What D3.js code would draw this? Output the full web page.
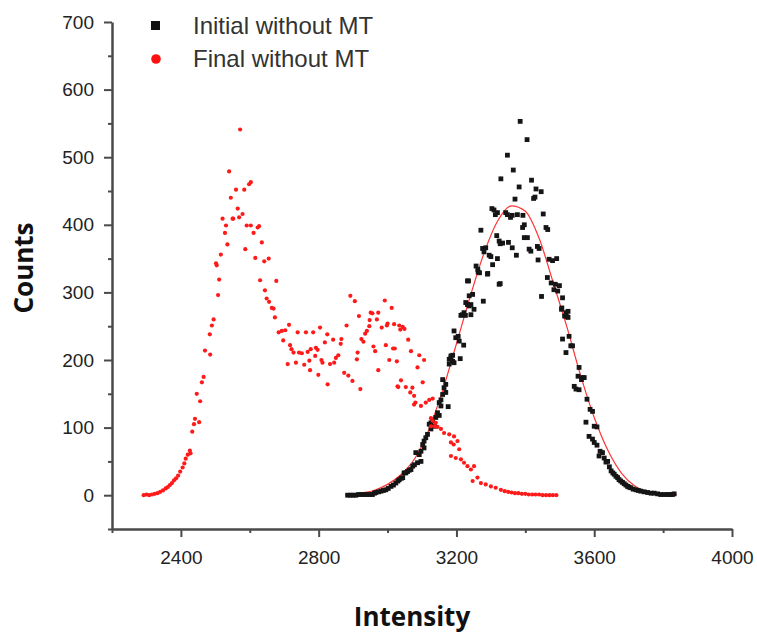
<!DOCTYPE html>
<html>
<head>
<meta charset="utf-8">
<script src="https://cdn.jsdelivr.net/npm/d3@7/dist/d3.min.js"></script>
<style>
body { margin: 0; background: #fff; }
</style>
</head>
<body>
<div id="chart"></div>
<script>
// tick values
var xTicks = [2400, 2800, 3200, 3600, 4000];
var xMinorTicks = [2200, 2600, 3000, 3400, 3800];
var yTicks = [0, 100, 200, 300, 400, 500, 600, 700];
var yMinorTicks = [-50, 50, 150, 250, 350, 450, 550, 650];
var seriesNames = ['Initial without MT', 'Final without MT'];

// Initial without MT : [intensity, counts]
var initialPts = [
  [2884,0],[2892,0],[2900,0],[2908,0],[2916,1],[2924,1],[2932,1],[2940,1],[2948,1],[2956,1],
  [2962,3],[2966,4],[2974,5],[2981,6],[2988,7],[2995,8],[3002,10],[3010,13],[3017,15],[3024,18],
  [3030,21],[3034,23],[3040,25],[3044,26],[3048,33],[3053,33],[3058,35],[3063,37],[3068,38],[3073,43],
  [3078,45],[3082,63],[3087,48],[3092,60],[3097,50],[3097,65],[3102,75],[3106,70],[3106,80],[3111,85],
  [3116,90],[3121,105],[3126,98],[3126,107],[3131,110],[3136,102],[3140,115],[3145,122],[3150,118],[3150,137],
  [3155,132],[3155,141],[3160,149],[3160,171],[3164,159],[3169,164],[3169,152],[3176,131],[3179,194],[3179,201],
  [3184,203],[3184,206],[3189,198],[3189,207],[3193,196],[3193,243],[3198,233],[3205,235],[3208,228],[3211,202],
  [3213,266],[3217,267],[3221,222],[3222,270],[3226,266],[3227,285],[3232,282],[3232,317],[3235,317],[3237,295],
  [3237,280],[3242,267],[3242,282],[3247,297],[3251,275],[3257,339],[3262,334],[3263,330],[3267,329],[3271,392],
  [3276,365],[3278,287],[3280,360],[3285,366],[3290,327],[3291,328],[3295,355],[3300,353],[3303,424],[3305,341],
  [3309,422],[3313,415],[3317,384],[3319,418],[3319,350],[3324,376],[3324,312],[3327,372],[3327,313],[3329,468],
  [3334,373],[3343,418],[3348,503],[3348,415],[3351,374],[3357,411],[3362,414],[3362,366],[3365,481],[3370,438],
  [3374,355],[3377,415],[3382,456],[3385,553],[3392,396],[3393,414],[3397,400],[3397,381],[3405,526],[3406,381],
  [3411,364],[3416,361],[3418,466],[3424,439],[3428,441],[3431,453],[3435,368],[3437,348],[3440,365],[3446,449],
  [3447,294],[3452,416],[3460,396],[3464,322],[3465,393],[3469,349],[3475,314],[3479,347],[3483,304],[3487,312],
  [3491,350],[3494,302],[3499,310],[3505,275],[3506,277],[3508,292],[3508,231],[3514,265],[3518,270],[3518,211],
  [3521,264],[3524,272],[3524,263],[3527,235],[3532,221],[3537,221],[3542,161],[3547,157],[3553,176],[3556,189],
  [3556,156],[3563,171],[3566,174],[3571,174],[3576,108],[3579,142],[3585,87],[3588,127],[3595,124],[3595,83],
  [3600,102],[3600,78],[3608,101],[3608,74],[3614,58],[3617,65],[3624,63],[3629,55],[3634,49],[3639,50],
  [3644,42],[3649,36],[3654,33],[3658,31],[3663,28],[3668,26],[3672,23],[3677,21],[3682,19],[3687,17],
  [3692,15],[3697,13],[3701,12],[3706,11],[3713,9],[3721,8],[3728,7],[3735,6],[3745,5],[3755,4],
  [3765,3],[3774,3],[3784,2],[3793,1],[3803,1],[3813,1],[3820,1],[3827,1],[3832,2]
];

// Final without MT : [intensity, counts]
var finalPts = [
  [2292,0],[2300,1],[2308,0],[2316,1],[2324,2],[2332,3],[2340,5],[2348,7],[2356,10],[2362,12],
  [2368,15],[2374,18],[2380,22],[2386,25],[2392,29],[2398,35],[2405,41],[2410,47],[2414,54],[2420,60],
  [2426,66],[2428,62],[2433,94],[2438,105],[2441,113],[2446,150],[2453,108],[2456,139],[2461,167],[2466,175],
  [2470,214],[2484,238],[2485,208],[2490,251],[2495,260],[2502,343],[2504,340],[2508,296],[2511,319],[2516,356],
  [2521,409],[2528,388],[2531,399],[2535,371],[2540,479],[2545,440],[2550,409],[2552,409],[2560,452],[2565,424],
  [2569,411],[2572,541],[2579,416],[2584,452],[2587,364],[2591,399],[2598,460],[2603,463],[2603,399],[2611,388],
  [2616,351],[2623,396],[2627,398],[2630,318],[2635,374],[2642,346],[2644,303],[2649,291],[2655,350],[2656,286],
  [2664,277],[2669,276],[2673,263],[2677,317],[2684,241],[2693,243],[2697,229],[2703,244],[2710,194],[2714,252],
  [2717,222],[2721,216],[2727,211],[2734,196],[2739,241],[2743,211],[2751,210],[2758,193],[2763,241],[2768,212],
  [2773,199],[2775,185],[2777,216],[2784,241],[2790,206],[2792,218],[2797,215],[2799,178],[2804,248],[2808,200],
  [2811,196],[2818,226],[2825,238],[2826,164],[2833,194],[2842,230],[2845,196],[2850,203],[2857,207],[2864,224],
  [2866,231],[2874,181],[2881,251],[2886,177],[2892,295],[2898,169],[2905,287],[2911,201],[2913,211],[2917,265],
  [2921,157],[2924,231],[2930,227],[2935,239],[2940,243],[2947,250],[2948,259],[2951,270],[2956,269],[2959,220],
  [2964,213],[2969,260],[2973,270],[2973,185],[2983,248],[2992,288],[2995,222],[2998,251],[3000,254],[3005,200],
  [3012,277],[3016,217],[3019,253],[3021,217],[3027,198],[3029,161],[3031,160],[3034,251],[3037,245],[3039,170],
  [3044,249],[3049,246],[3053,160],[3060,230],[3066,152],[3068,213],[3072,159],[3077,147],[3077,134],[3081,137],
  [3087,189],[3092,207],[3097,132],[3102,167],[3106,200],[3111,137],[3121,141],[3126,102],[3126,114],[3131,143],
  [3131,110],[3136,102],[3140,107],[3145,101],[3155,98],[3164,92],[3179,90],[3184,78],[3184,58],[3192,75],
  [3193,87],[3198,55],[3203,80],[3208,68],[3213,53],[3222,48],[3232,43],[3242,38],[3247,21],[3251,43],
  [3261,26],[3271,18],[3285,16],[3300,13],[3314,11],[3329,8],[3340,6],[3350,5],[3360,4],[3370,3],
  [3380,3],[3390,2],[3400,2],[3410,1],[3420,1],[3430,1],[3440,1],[3450,0],[3460,0],[3470,0],
  [3480,0],[3490,0]
];

// gaussian fit of the initial peak
var fitX = [2880, 2920, 2960, 3000, 3040, 3080, 3120, 3160, 3200, 3240, 3280, 3320, 3360,
            3400, 3440, 3480, 3520, 3560, 3600, 3640, 3680, 3720, 3760, 3800, 3840];
var fitY = [1, 3, 7, 16, 31, 55, 97, 155, 224, 294, 358, 406, 428,
            420, 380, 316, 250, 178, 115, 66, 32, 13, 5, 2, 1];

var width = 757, height = 634;
var margin = { top: 22, right: 25, bottom: 105, left: 112 };

var svg = d3.select('#chart')
    .append('svg')
    .attr('width', width)
    .attr('height', height)
    .style('font-family', '"Liberation Sans", Arial, sans-serif');

var x = d3.scaleLinear()
    .domain([2200, 4000])
    .range([margin.left, width - margin.right]);

var y = d3.scaleLinear()
    .domain([-50, 700])
    .range([height - margin.bottom, margin.top]);

var axisColor = '#4a4a4a';

// minor ticks first
svg.append('g')
    .attr('transform', 'translate(0,' + (height - margin.bottom) + ')')
    .call(d3.axisBottom(x).tickValues(xMinorTicks).tickSize(4).tickSizeOuter(0).tickFormat(''))
    .call(g => g.select('.domain').remove())
    .selectAll('line').attr('stroke', axisColor).attr('stroke-width', 2);

svg.append('g')
    .attr('transform', 'translate(' + margin.left + ',0)')
    .call(d3.axisLeft(y).tickValues(yMinorTicks).tickSize(4).tickSizeOuter(0).tickFormat(''))
    .call(g => g.select('.domain').remove())
    .selectAll('line').attr('stroke', axisColor).attr('stroke-width', 2);

// major axes
var gx = svg.append('g')
    .attr('transform', 'translate(0,' + (height - margin.bottom) + ')')
    .call(d3.axisBottom(x).tickValues(xTicks).tickFormat(d3.format('d'))
        .tickSize(8).tickSizeOuter(0).tickPadding(14));

var gy = svg.append('g')
    .attr('transform', 'translate(' + margin.left + ',0)')
    .call(d3.axisLeft(y).tickValues(yTicks).tickFormat(d3.format('d'))
        .tickSize(8).tickSizeOuter(0).tickPadding(10));

[gx, gy].forEach(function (g) {
    g.select('.domain').attr('stroke', axisColor).attr('stroke-width', 2.5);
    g.selectAll('.tick line').attr('stroke', axisColor).attr('stroke-width', 2);
    g.selectAll('.tick text')
        .attr('fill', '#222')
        .style('font-size', '19px')
        .style('font-family', '"Liberation Sans", Arial, sans-serif');
});

// fitted curve
var fitLine = d3.line()
    .curve(d3.curveMonotoneX)
    .x(function (d, i) { return x(fitX[i]); })
    .y(function (d) { return y(d); });

svg.append('path')
    .attr('d', fitLine(fitY))
    .attr('fill', 'none')
    .attr('stroke', '#ff3535')
    .attr('stroke-width', 1.2);

// scatter points
svg.append('g').selectAll('rect')
    .data(initialPts)
    .enter().append('rect')
    .attr('x', function (d) { return x(d[0]) - 2.4; })
    .attr('y', function (d) { return y(d[1]) - 2.4; })
    .attr('width', 4.8)
    .attr('height', 4.8)
    .attr('fill', '#151515');

svg.append('g').selectAll('circle')
    .data(finalPts)
    .enter().append('circle')
    .attr('cx', function (d) { return x(d[0]); })
    .attr('cy', function (d) { return y(d[1]); })
    .attr('r', 2.1)
    .attr('fill', '#ff1a1a');

// legend
var legend = svg.append('g');
legend.append('rect')
    .attr('x', 151).attr('y', 21)
    .attr('width', 9).attr('height', 9)
    .attr('fill', '#111');
legend.append('circle')
    .attr('cx', 156).attr('cy', 59)
    .attr('r', 4.8)
    .attr('fill', '#ff1010');
legend.selectAll('text')
    .data(seriesNames)
    .enter().append('text')
    .attr('x', 193)
    .attr('y', function (d, i) { return 34 + i * 33; })
    .text(function (d) { return d; })
    .style('font-size', '24px')
    .attr('fill', '#333');

// axis titles
svg.append('text')
    .text('Intensity')
    .attr('x', 412)
    .attr('y', 626)
    .attr('text-anchor', 'middle')
    .style('font-family', '"Open Sans", sans-serif')
    .style('font-weight', 'bold')
    .style('font-size', '26px')
    .attr('fill', '#111');

svg.append('text')
    .text('Counts')
    .attr('transform', 'translate(33,268) rotate(-90)')
    .attr('text-anchor', 'middle')
    .style('font-family', '"Open Sans", sans-serif')
    .style('font-weight', 'bold')
    .style('font-size', '26px')
    .attr('fill', '#111');
</script>
</body>
</html>
